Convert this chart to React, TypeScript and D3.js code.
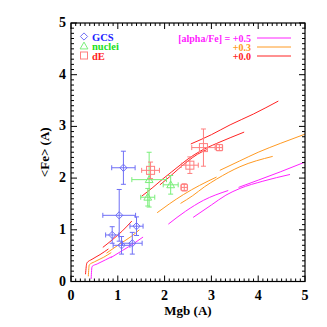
import * as d3 from "d3";

const W = 327;
const H = 327;
const MARGIN = { top: 23, right: 22, bottom: 45.5, left: 71 };
const FONT = "'Liberation Serif', 'DejaVu Serif', serif";

// observations: [Mgb, <Fe>, errMgb, errFe]
const gcs = [
  [1.12, 2.2, 0.25, 0.32],
  [1.03, 1.28, 0.35, 0.5],
  [0.88, 0.9, 0.14, 0.16],
  [1.4, 1.07, 0.14, 0.18],
  [1.08, 0.7, 0.18, 0.17],
  [1.31, 0.74, 0.21, 0.21],
];
const nuclei = [
  [1.67, 1.97, 0.37, 0.53],
  [1.64, 1.63, 0.15, 0.17],
  [2.13, 1.87, 0.16, 0.18],
];
const dE = [
  [1.7, 2.15, 0.19, 0.16],
  [2.54, 2.25, 0.18, 0.16],
  [2.83, 2.59, 0.25, 0.36],
  [3.17, 2.59, 0.07, 0.06],
  [2.42, 1.82, 0.07, 0.07],
];

// model tracks, per [alpha/Fe]
const alpha00 = [
  [[0.31, 0.14], [0.34, 0.36], [0.45, 0.43], [0.62, 0.52], [0.8, 0.63]],
  [[0.68, 0.66], [0.9, 0.82], [1.1, 0.98], [1.3, 1.17]],
  [[1.51, 1.65], [1.75, 1.82], [1.97, 1.99], [2.15, 2.12], [2.33, 2.25], [2.5, 2.37], [2.76, 2.52], [3.11, 2.67], [3.4, 2.78], [3.7, 2.89]],
  [[1.9, 1.87], [2.1, 2.02], [2.3, 2.18], [2.5, 2.33], [2.7, 2.46], [2.9, 2.55]],
  [[2.56, 2.66], [3.0, 2.84], [3.4, 3.03], [3.9, 3.24], [4.43, 3.49]],
];
const alpha03 = [
  [[0.37, 0.1], [0.39, 0.32], [0.5, 0.38], [0.7, 0.47], [0.86, 0.56]],
  [[0.76, 0.55], [1.05, 0.73], [1.3, 0.88], [1.46, 1.0]],
  [[1.84, 1.33], [2.1, 1.5], [2.4, 1.68], [2.75, 1.86], [3.11, 2.02]],
  [[2.34, 1.51], [2.6, 1.66], [2.85, 1.83], [3.11, 1.98], [3.61, 2.22], [4.31, 2.42]],
  [[3.18, 2.15], [3.6, 2.33], [4.0, 2.5], [4.47, 2.67], [5.0, 2.85]],
];
const alpha05 = [
  [[0.43, 0.05], [0.45, 0.29], [0.56, 0.34], [0.74, 0.42], [0.87, 0.48]],
  [[0.85, 0.46], [1.1, 0.6], [1.35, 0.74], [1.54, 0.86]],
  [[2.08, 1.11], [2.45, 1.36], [2.83, 1.57], [3.36, 1.76]],
  [[2.61, 1.24], [3.0, 1.48], [3.31, 1.67], [3.61, 1.8], [4.1, 1.94], [4.68, 2.07]],
  [[3.58, 1.82], [4.0, 1.96], [4.47, 2.12], [5.0, 2.31]],
];

const xTicks = [0, 1, 2, 3, 4, 5];
const yTicks = [0, 1, 2, 3, 4, 5];
const models = [
  { label: "[alpha/Fe] = +0.5", color: "#ff22ff", tracks: alpha05 },
  { label: "+0.3", color: "#ff9a22", tracks: alpha03 },
  { label: "+0.0", color: "#ff2222", tracks: alpha00 },
];
const samples = [
  { label: "GCS", text: "#2222ff", color: "#6f6ff6", shape: "diamond", data: gcs },
  { label: "nuclei", text: "#22e022", color: "#7aee7a", shape: "triangle", data: nuclei },
  { label: "dE", text: "#ff2222", color: "#ff7f7f", shape: "square", data: dE },
];

const Marker = ({ shape, x, y, color, size }) => {
  if (shape === "diamond") {
    const s = size * 0.6;
    return <path d={`M${x},${y - s}L${x + s},${y}L${x},${y + s}L${x - s},${y}Z`} fill="none" stroke={color} strokeWidth={1} />;
  }
  if (shape === "triangle") {
    const s = size * 0.65;
    return <path d={`M${x},${y - s}L${x + s},${y + s * 0.75}L${x - s},${y + s * 0.75}Z`} fill="none" stroke={color} strokeWidth={1} />;
  }
  return <rect x={x - size / 2} y={y - size / 2} width={size} height={size} fill="none" stroke={color} strokeWidth={1} />;
};

export default function App() {
  const bw = W - MARGIN.left - MARGIN.right;
  const bh = H - MARGIN.top - MARGIN.bottom;
  const x = d3.scaleLinear().domain([0, 5]).range([0, bw]);
  const y = d3.scaleLinear().domain([0, 5]).range([bh, 0]);
  const line = d3.line().x((d) => x(d[0])).y((d) => y(d[1])).curve(d3.curveMonotoneX);
  const minor = d3.range(0, 5.001, 0.1);

  return (
    <svg width={W} height={H} style={{ position: "absolute", left: 0, top: 0 }} fontFamily={FONT} fontWeight="bold">
      <g transform={`translate(${MARGIN.left},${MARGIN.top})`}>
        {models.map((m) =>
          m.tracks.map((t, i) => (
            <path key={m.label + i} d={line(t)} fill="none" stroke={m.color} strokeWidth={1} />
          ))
        )}
        {samples.map((s) =>
          s.data.map((d, i) => {
            const cx = x(d[0]);
            const cy = y(d[1]);
            const x0 = x(d[0] - d[2]);
            const x1 = x(d[0] + d[2]);
            const y0 = y(d[1] - d[3]);
            const y1 = y(d[1] + d[3]);
            const size = s.shape === "square" ? (d[2] > 0.1 ? 8 : 6) : 6;
            return (
              <g key={s.label + i} stroke={s.color} strokeWidth={1}>
                <line x1={x0} x2={x1} y1={cy} y2={cy} />
                <line x1={cx} x2={cx} y1={y0} y2={y1} />
                <line x1={x0} x2={x0} y1={cy - 2.5} y2={cy + 2.5} />
                <line x1={x1} x2={x1} y1={cy - 2.5} y2={cy + 2.5} />
                <line x1={cx - 2.5} x2={cx + 2.5} y1={y0} y2={y0} />
                <line x1={cx - 2.5} x2={cx + 2.5} y1={y1} y2={y1} />
                <Marker shape={s.shape} x={cx} y={cy} color={s.color} size={size} />
              </g>
            );
          })
        )}
        {/* frame and inward ticks on all sides */}
        <rect x={0} y={0} width={bw} height={bh} fill="none" stroke="#000" strokeWidth={1.2} />
        {minor.map((v) => {
          const major = Math.abs(v - Math.round(v)) < 1e-6;
          const len = major ? 6 : 3;
          return (
            <g key={v} stroke="#000" strokeWidth={1}>
              <line x1={x(v)} x2={x(v)} y1={bh} y2={bh - len} />
              <line x1={x(v)} x2={x(v)} y1={0} y2={len} />
              <line x1={0} x2={len} y1={y(v)} y2={y(v)} />
              <line x1={bw} x2={bw - len} y1={y(v)} y2={y(v)} />
            </g>
          );
        })}
        {xTicks.map((v) => (
          <text key={v} x={x(v)} y={bh + 18} fontSize={14} textAnchor="middle">
            {v}
          </text>
        ))}
        {yTicks.map((v) => (
          <text key={v} x={-5} y={y(v) + 4} fontSize={14} textAnchor="end">
            {v}
          </text>
        ))}
        <text x={bw / 2} y={bh + 33} fontSize={13} textAnchor="middle">
          Mgb (A)
        </text>
        <text transform={`translate(-22,${bh / 2}) rotate(-90)`} fontSize={13} textAnchor="middle">
          {"<Fe> (A)"}
        </text>
        {samples.map((s, i) => (
          <g key={s.label}>
            <Marker shape={s.shape} x={13} y={13.5 + i * 9.5} color={s.color} size={s.shape === "square" ? 7 : 6} />
            <text x={21} y={17.5 + i * 9.5} fontSize={10.5} fill={s.text}>
              {s.label}
            </text>
          </g>
        ))}
        {models.map((m, i) => (
          <g key={m.label}>
            <text x={180} y={18.5 + i * 9} fontSize={10} fill={m.color} textAnchor="end">
              {m.label}
            </text>
            <line x1={186} x2={220} y1={15 + i * 9} y2={15 + i * 9} stroke={m.color} strokeWidth={1} />
          </g>
        ))}
      </g>
    </svg>
  );
}
